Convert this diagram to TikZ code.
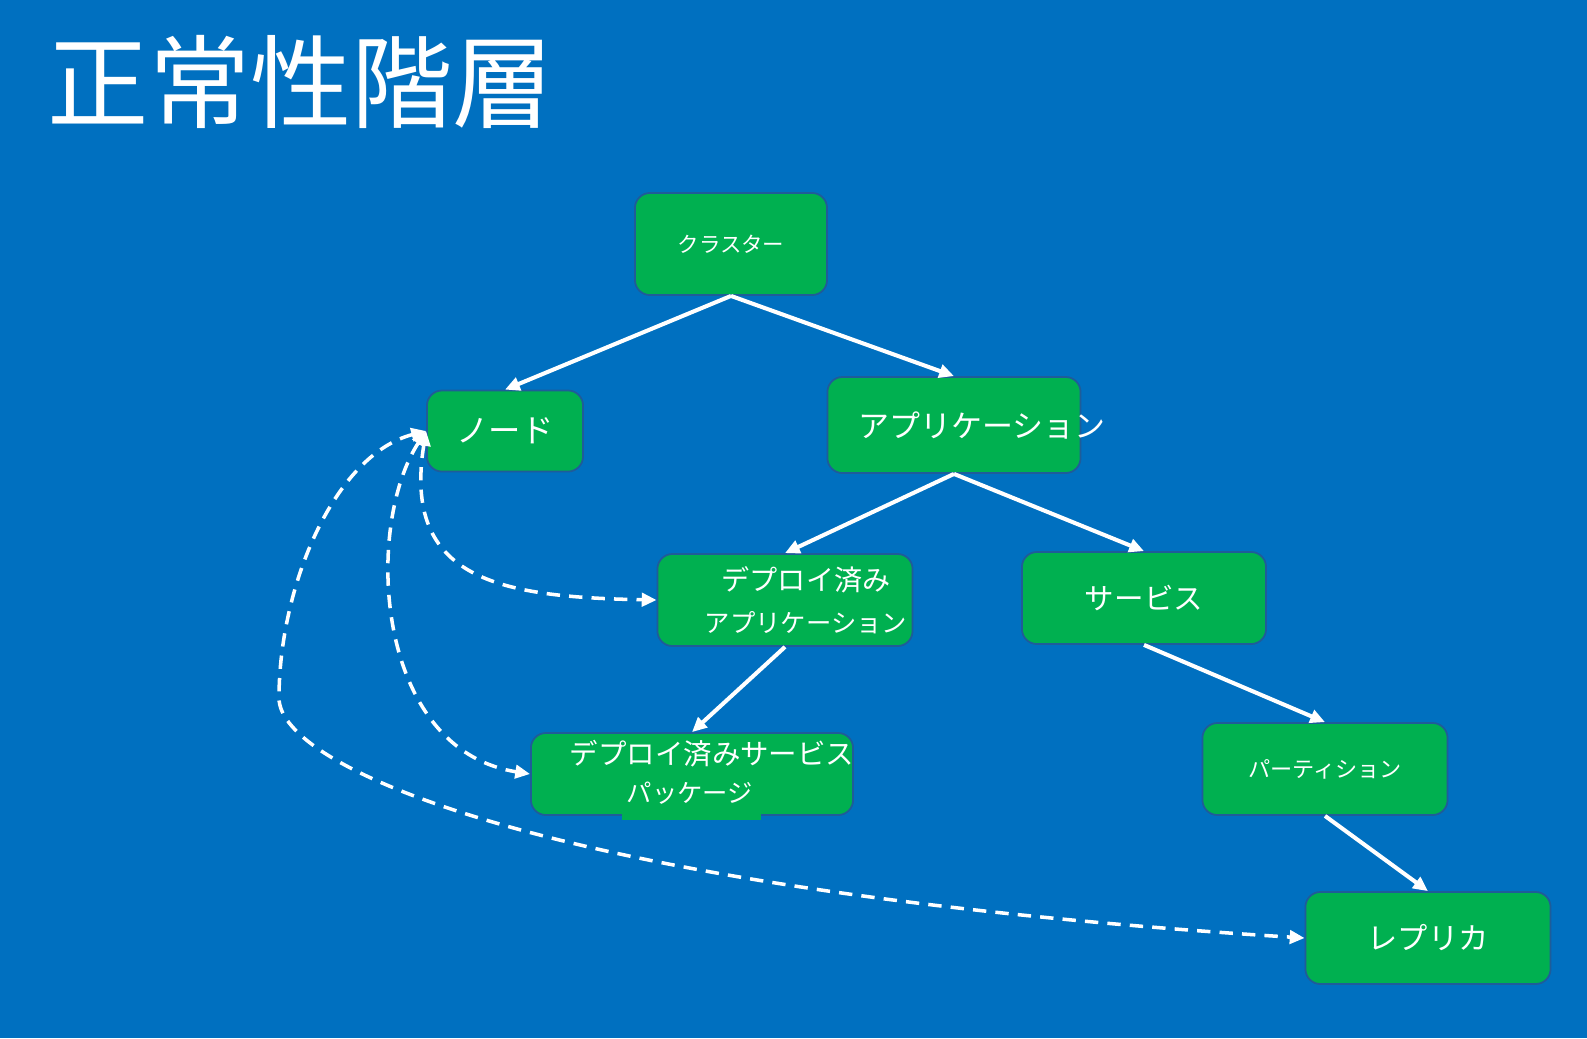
\documentclass[tikz,border=0pt]{standalone}
\usepackage{fontspec}
\setmainfont{Noto Sans CJK JP}
\usetikzlibrary{arrows.meta}
\definecolor{slideblue}{HTML}{0070C0}
\definecolor{boxgreen}{HTML}{00B050}
\definecolor{boxline}{HTML}{1F5C99}
\newcommand{\fsz}[1]{\fontsize{#1}{11.4pt}\selectfont}

\begin{document}
\begin{tikzpicture}[x=0.01cm,y=-0.01cm,
      hbox/.style={draw=boxline,fill=boxgreen,line width=0.5pt,
        rounded corners=0.15cm,inner sep=0pt,text=white},
      lbl/.style={text=white,inner sep=0pt,align=center},
      tree/.style={white,line width=1.15pt,-{Triangle[length=4.2pt,width=3.8pt]}},
      link/.style={white,line width=1pt,dash pattern=on 3.8pt off 2.6pt,
        {Triangle[length=4.2pt,width=3.8pt]}-{Triangle[length=4.2pt,width=3.8pt]}}]
      \fill[slideblue] (0,0) rectangle (1587,1038);
      \useasboundingbox (0,0) rectangle (1587,1038);
      \node[lbl,font=\fsz{28.8pt}] (title) at (301,82) {正常性階層};
      % boxes
      \node[hbox,minimum width=1.92cm,minimum height=1.02cm,font=\fsz{6.1pt}] (cluster) at (731,244) {クラスター};
      \node[hbox,minimum width=1.56cm,minimum height=0.81cm,font=\fsz{9.2pt}] (node) at (505,431) {ノード};
      \node[hbox,minimum width=2.53cm,minimum height=0.96cm] (app) at (954,425) {};
      \node[hbox,minimum width=2.55cm,minimum height=0.92cm] (depapp) at (785,600) {};
      \node[hbox,minimum width=2.44cm,minimum height=0.92cm,font=\fsz{8.4pt}] (service) at (1144,598) {サービス};
      \node[hbox,minimum width=3.22cm,minimum height=0.82cm] (deppkg) at (692,774) {};
      \fill[boxgreen] (622,812) rectangle (761,820);
      \node[hbox,minimum width=2.45cm,minimum height=0.92cm,font=\fsz{6.3pt}] (partition) at (1325,769) {パーティション};
      \node[hbox,minimum width=2.45cm,minimum height=0.92cm,font=\fsz{8.6pt}] (replica) at (1428,938) {レプリカ};
      % texts that sit off centre
      \node[lbl,font=\fsz{8.8pt}] (apptext) at ([xshift=0.28cm]app.center) {アプリケーション};
      \node[lbl] (depapptext) at ([xshift=0.21cm]depapp.center)
        {{\fsz{8pt}デプロイ済み}\\{\fsz{7.2pt}アプリケーション}};
      \node[lbl,anchor=base] (deppkgtop) at ([xshift=0.20cm,yshift=-0.32cm]deppkg.north) {\fsz{8.1pt}デプロイ済みサービス};
      \node[lbl,anchor=base] (deppkgbot) at ([xshift=-0.02cm,yshift=-0.70cm]deppkg.north) {\fsz{7.2pt}パッケージ};
      % tree
      \draw[tree] (cluster.south) -- (node.north);
      \draw[tree] (cluster.south) -- (app.north);
      \draw[tree] (app.south) -- (depapp.north);
      \draw[tree] (app.south) -- (service.north);
      \draw[tree] (depapp.south) -- (deppkg.north);
      \draw[tree] (service.south) -- (partition.north);
      \draw[tree] (partition.south) -- (replica.north);
      % dashed links from the node
      \draw[link] (node.west) .. controls (402,580) and (500,597) .. (depapp.west);
      \draw[link] (node.west) .. controls (364,526) and (374,749) .. (deppkg.west);
      \draw[link] (node.west) .. controls (334,455) and (279,587) .. (279,698)
        .. controls (279,769) and (557,891) .. (replica.west);
\end{tikzpicture}
\end{document}
